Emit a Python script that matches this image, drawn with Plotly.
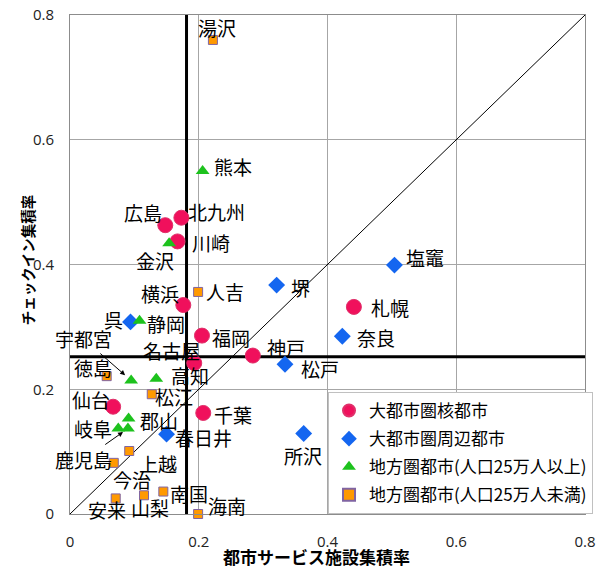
import plotly.graph_objects as go

# ---------------- data ----------------
core_names = ["札幌", "仙台", "千葉", "横浜", "川崎", "名古屋", "神戸", "広島", "北九州", "福岡"]
core_x = [0.441, 0.067, 0.207, 0.176, 0.167, 0.193, 0.284, 0.148, 0.173, 0.205]
core_y = [0.332, 0.172, 0.162, 0.335, 0.437, 0.242, 0.254, 0.463, 0.475, 0.286]

sub_names = ["塩竈", "所沢", "松戸", "春日井", "奈良", "堺", "呉"]
sub_x = [0.504, 0.363, 0.334, 0.150, 0.423, 0.321, 0.094]
sub_y = [0.399, 0.129, 0.240, 0.128, 0.285, 0.367, 0.308]

big_names = ["宇都宮", "郡山", "金沢", "静岡", "岐阜", "高知", "熊本", "鹿児島"]
big_x = [0.095, 0.091, 0.154, 0.108, 0.075, 0.134, 0.206, 0.090]
big_y = [0.214, 0.153, 0.434, 0.310, 0.137, 0.217, 0.550, 0.137]

small_names = ["湯沢", "上越", "松江", "安来", "山梨", "南国", "海南", "今治", "徳島", "人吉"]
small_x = [0.222, 0.092, 0.127, 0.071, 0.115, 0.145, 0.199, 0.068, 0.057, 0.199]
small_y = [0.760, 0.101, 0.192, 0.025, 0.030, 0.036, 0.000, 0.082, 0.221, 0.356]

series_names = ["大都市圏核都市", "大都市圏周辺都市", "地方圏都市(人口25万人以上)", "地方圏都市(人口25万人未満)"]

thresh_x = 0.181   # vertical reference line
thresh_y = 0.252   # horizontal reference line
diag = [0, 0.8]

x_ticks = [0, 0.2, 0.4, 0.6, 0.8]
y_ticks = [0, 0.2, 0.4, 0.6, 0.8]
x_title = "都市サービス施設集積率"
y_title = "チェックイン集積率"

# ---------------- label placement (pixel offsets) ----------------
label_shift = {
    "湯沢": (4, 12), "熊本": (30, 4), "北九州": (35, 6), "広島": (-22, 13),
    "川崎": (33, -1), "金沢": (-14, -17), "人吉": (27, 0), "堺": (24, -2),
    "横浜": (-23, 12), "呉": (-17, 2), "静岡": (26, -3), "福岡": (29, -2),
    "神戸": (33, 8), "名古屋": (-23, 13), "松戸": (35, -4), "高知": (34, 3),
    "徳島": (-14, 9), "松江": (22, -2), "仙台": (-22, 7), "千葉": (30, -2),
    "郡山": (30, -2), "岐阜": (-25, 0), "春日井": (37, -3), "所沢": (-1, -22),
    "上越": (29, -12), "今治": (18, -17), "安来": (-9, -11), "山梨": (6, -12),
    "南国": (26, -2), "海南": (29, 9), "塩竈": (31, 8), "札幌": (36, -1),
    "奈良": (34, -1),
}
label_arrow = {"宇都宮": (-48, -42, 8), "鹿児島": (-44, 31, 6)}

JP = "Noto Sans CJK JP"
GRID = "#a6a6a6"
LBL = 19

fig = go.Figure()

# reference lines
fig.add_trace(go.Scatter(x=diag, y=diag, mode="lines", line=dict(color="black", width=1),
                         showlegend=False, hoverinfo="skip"))
fig.add_trace(go.Scatter(x=[thresh_x, thresh_x], y=diag, mode="lines",
                         line=dict(color="black", width=3), showlegend=False, hoverinfo="skip"))
fig.add_trace(go.Scatter(x=diag, y=[thresh_y, thresh_y], mode="lines",
                         line=dict(color="black", width=3), showlegend=False, hoverinfo="skip"))

styles = [
    (core_names, core_x, core_y, dict(symbol="circle", size=15, color="#F0105C",
                                      line=dict(color="#E0306A", width=1))),
    (sub_names, sub_x, sub_y, dict(symbol="diamond", size=13, color="#1466F0",
                                   line=dict(color="#1466F0", width=0))),
    (big_names, big_x, big_y, dict(symbol="triangle-up", size=12, color="#1DC21D",
                                   line=dict(color="#1DC21D", width=0))),
    (small_names, small_x, small_y, dict(symbol="square", size=9, color="#FF9900",
                                         line=dict(color="#8064A2", width=1))),
]
for i, ((names, xs, ys, mk), sname) in enumerate(zip(styles, series_names)):
    fig.add_trace(go.Scatter(x=xs, y=ys, mode="markers", name=sname, marker=mk,
                             legendgroup=f"g{i}", text=names, cliponaxis=False))

annotations = []
for names, xs, ys, _ in styles:
    for n, xv, yv in zip(names, xs, ys):
        if n in label_arrow:
            ax, ay, so = label_arrow[n]
            annotations.append(dict(x=xv, y=yv, xref="x", yref="y", text=n, showarrow=True,
                                    ax=ax, ay=ay, arrowhead=2, arrowsize=1, arrowwidth=1,
                                    arrowcolor="black", standoff=so,
                                    font=dict(family=JP, size=LBL, color="black")))
        else:
            dx, dy = label_shift[n]
            annotations.append(dict(x=xv, y=yv, xref="x", yref="y", text=n, showarrow=False,
                                    xshift=dx, yshift=dy,
                                    font=dict(family=JP, size=LBL, color="black")))

# axis titles (placed like the original, slightly off-centre)
annotations.append(dict(text=f"<b>{x_title}</b>", xref="paper", yref="paper", x=0.479, y=-0.085,
                        xanchor="center", yanchor="middle", showarrow=False,
                        font=dict(family=JP, size=17, color="black")))
annotations.append(dict(text=f"<b>{y_title}</b>", xref="paper", yref="paper", x=-0.082, y=0.51,
                        xanchor="center", yanchor="middle", showarrow=False, textangle=-90,
                        font=dict(family=JP, size=14.5, color="black")))

# page body has an 8px margin: figure is sized/offset to compensate
fig.update_layout(
    width=597, height=558,
    margin=dict(l=62, r=20, t=7, b=52, autoexpand=False),
    paper_bgcolor="white", plot_bgcolor="white",
    font=dict(family=JP, color="black"),
    annotations=annotations,
    showlegend=True,
    legend=dict(x=0.501, y=0.0, xanchor="left", yanchor="bottom",
                bgcolor="white", bordercolor="#c0c0c0", borderwidth=1,
                font=dict(family=JP, size=17, color="black"),
                itemsizing="constant", traceorder="grouped", tracegroupgap=3),
    xaxis=dict(range=[0, 0.8], tickvals=x_ticks, ticktext=[f"{v:g}" for v in x_ticks],
               showgrid=True, gridcolor=GRID, gridwidth=1, zeroline=False,
               showline=True, mirror=True, linecolor="#8c8c8c", linewidth=1,
               ticks="", ticklabelstandoff=14, automargin=False, ticklabeloverflow="allow",
               tickfont=dict(family="Open Sans", size=15, color="#222")),
    yaxis=dict(range=[0, 0.8], tickvals=y_ticks, ticktext=[f"{v:g}" for v in y_ticks],
               showgrid=True, gridcolor=GRID, gridwidth=1, zeroline=False,
               showline=True, mirror=True, linecolor="#8c8c8c", linewidth=1,
               ticks="", ticklabelstandoff=12, automargin=False, ticklabeloverflow="allow",
               tickfont=dict(family="Open Sans", size=15, color="#222")),
    xaxis2=dict(overlaying="x", anchor="free", position=0.5, side="top", range=[0, 0.8],
                dtick=0.04, tick0=0, ticks="outside", ticklen=4, tickcolor=GRID,
                showticklabels=False, showgrid=False, zeroline=False, showline=False,
                automargin=False),
    yaxis2=dict(overlaying="y", anchor="free", position=0.5, side="left", range=[0, 0.8],
                dtick=0.04, tick0=0, ticks="outside", ticklen=4, tickcolor=GRID,
                showticklabels=False, showgrid=False, zeroline=False, showline=False,
                automargin=False),
)

fig.write_html("out.html")
